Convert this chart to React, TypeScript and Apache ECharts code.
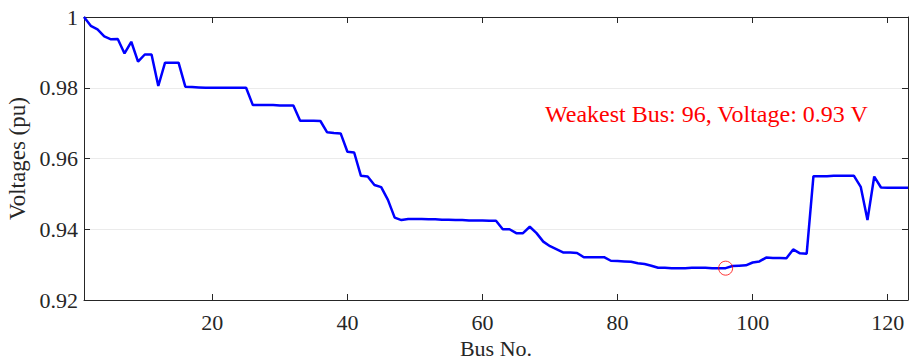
import React, { useEffect, useRef } from "react";
import * as echarts from "echarts";

// Voltage profile (pu) for buses 1..123
const voltages: number[] = [
  1.0, 0.9975, 0.9965, 0.9945, 0.9937, 0.9938, 0.9897, 0.993, 0.9874, 0.9894,
  0.9894, 0.9805, 0.9871, 0.9871, 0.9871, 0.9803, 0.9802, 0.9801, 0.98, 0.98,
  0.98, 0.98, 0.98, 0.98, 0.98, 0.9751, 0.9751, 0.9751, 0.9751, 0.975,
  0.975, 0.975, 0.9707, 0.9707, 0.9707, 0.9706, 0.9674, 0.9672, 0.9671, 0.9619,
  0.9617, 0.9551, 0.9549, 0.9525, 0.9519, 0.9483, 0.9433, 0.9426, 0.9429, 0.9429,
  0.9429, 0.9428, 0.9428, 0.9427, 0.9427, 0.9426, 0.9426, 0.9425, 0.9425, 0.9425,
  0.9424, 0.9424, 0.94, 0.94, 0.9389, 0.9389, 0.9407, 0.9389, 0.9365, 0.9352,
  0.9343, 0.9334, 0.9334, 0.9333, 0.9321, 0.9321, 0.9321, 0.9321, 0.9311, 0.931,
  0.9309, 0.9308, 0.9304, 0.9302, 0.9297, 0.9291, 0.9291, 0.929, 0.929, 0.929,
  0.9291, 0.9291, 0.9291, 0.929, 0.929, 0.929, 0.9296, 0.9297, 0.9298, 0.9306,
  0.9309, 0.932, 0.9319, 0.9319, 0.9318, 0.9343, 0.9332, 0.9331, 0.955, 0.955,
  0.955, 0.9551, 0.9551, 0.9551, 0.9551, 0.952, 0.9426, 0.9549, 0.9518, 0.9517,
  0.9517, 0.9517, 0.9517,
];
const xTicks: number[] = [20, 40, 60, 80, 100, 120];
const weakestBus = 96;
const weakestVoltage = 0.929;
const annotation = "Weakest Bus: 96, Voltage: 0.93 V";

const FONT = '"Liberation Serif", "Times New Roman", serif';
const AX = "#262626";

export default function App() {
  const ref = useRef<HTMLDivElement>(null);
  useEffect(() => {
    if (!ref.current) return;
    const chart = echarts.init(ref.current, null, { renderer: "svg" });
    const lineData = voltages.map((v, i) => [i + 1, v]);
    const axisCommon = {
      type: "value" as const,
      axisLine: { show: true, lineStyle: { color: AX, width: 1 } },
    };
    chart.setOption({
      animation: false,
      backgroundColor: "#ffffff",
      grid: { left: 84, right: 1, top: 17, bottom: 60, outerBoundsMode: "none", containLabel: false },
      xAxis: [
        {
          ...axisCommon,
          min: 1,
          max: 123,
          name: "Bus No.",
          nameLocation: "middle",
          nameGap: 31,
          nameTextStyle: { fontFamily: FONT, fontSize: 22, lineHeight: 22, color: AX },
          axisTick: { show: true, inside: true, length: 6, customValues: xTicks, lineStyle: { color: AX } },
          axisLabel: { show: true, customValues: xTicks, margin: 11, fontFamily: FONT, fontSize: 22, color: AX },
          splitLine: { show: false },
        },
        {
          ...axisCommon,
          position: "top",
          min: 1,
          max: 123,
          axisTick: { show: true, inside: true, length: 6, customValues: xTicks, lineStyle: { color: AX } },
          axisLabel: { show: false },
          splitLine: { show: false },
        },
      ],
      yAxis: [
        {
          ...axisCommon,
          min: 0.92,
          max: 1,
          interval: 0.02,
          name: "Voltages (pu)",
          nameLocation: "middle",
          nameGap: 49,
          nameTextStyle: { fontFamily: FONT, fontSize: 23, color: AX },
          axisTick: { show: true, inside: true, length: 6, lineStyle: { color: AX } },
          axisLabel: {
            margin: 6,
            fontFamily: FONT,
            fontSize: 22,
            color: AX,
            formatter: (v: number) => String(+v.toFixed(2)),
          },
          splitLine: { show: true, lineStyle: { color: "#ebebeb", width: 1 } },
        },
        {
          ...axisCommon,
          position: "right",
          min: 0.92,
          max: 1,
          interval: 0.02,
          axisTick: { show: true, inside: true, length: 6, lineStyle: { color: AX } },
          axisLabel: { show: false },
          splitLine: { show: false },
        },
      ],
      series: [
        {
          type: "line",
          xAxisIndex: 0,
          yAxisIndex: 0,
          data: lineData,
          showSymbol: false,
          symbol: "none",
          lineStyle: { color: "#0000ff", width: 2.5 },
          z: 3,
        },
        {
          type: "scatter",
          xAxisIndex: 0,
          yAxisIndex: 0,
          data: [[weakestBus, weakestVoltage]],
          symbol: "circle",
          symbolSize: 14,
          itemStyle: { color: "rgba(0,0,0,0)", borderColor: "#ff0000", borderWidth: 1 },
          z: 4,
        },
      ],
      graphic: [
        {
          type: "text",
          left: 545,
          top: 102,
          style: {
            text: annotation,
            fill: "#ff0000",
            font: `24px ${FONT}`,
          },
        },
      ],
    });
    return () => chart.dispose();
  }, []);
  return (
    <div
      ref={ref}
      style={{ position: "fixed", left: 0, top: 0, width: 909, height: 360 }}
    />
  );
}
